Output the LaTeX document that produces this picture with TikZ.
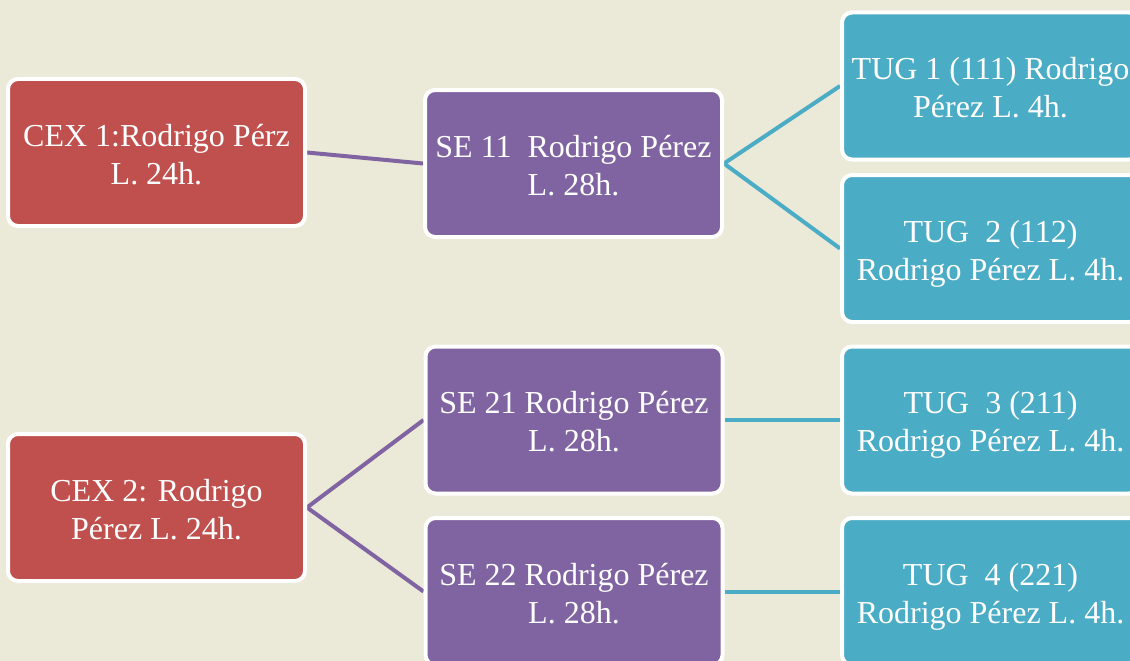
\documentclass[tikz,border=0pt]{standalone}
\usepackage{fontspec}
\setmainfont{Liberation Serif}
\definecolor{bgc}{HTML}{EBE9D7}
\definecolor{redc}{HTML}{C0504D}
\definecolor{purc}{HTML}{8064A2}
\definecolor{tealc}{HTML}{4BACC6}
\pgfdeclarelayer{bg}
\pgfdeclarelayer{lines}
\pgfsetlayers{bg,lines,main}
\tikzset{
  box/.style={draw=white, line width=4pt, rounded corners=10pt, minimum width=297pt,
    minimum height=147pt, inner sep=0pt, align=center, text=white,
    font=\fontsize{32}{38}\selectfont},
  redbox/.style={box, fill=redc},
  purbox/.style={box, fill=purc},
  tealbox/.style={box, fill=tealc},
  plink/.style={draw=purc, line width=4pt},
  tlink/.style={draw=tealc, line width=4pt}
}
\newcommand{\boxtext}[2]{\raisebox{0pt}[\dimexpr\height+10pt\relax][\depth]{\begin{tabular}{@{}c@{}}#1\\#2\end{tabular}}}
\begin{document}
\begin{tikzpicture}[x=1pt,y=-1pt]
\useasboundingbox (0,0) rectangle (1130,661);
\begin{pgfonlayer}{bg}
\fill[bgc] (0,0) rectangle (1130,661);
\end{pgfonlayer}
\clip (0,0) rectangle (1130,661);
\node[redbox] (cex1) at (156.5,152.5) {\boxtext{CEX 1:Rodrigo Pérz}{L. 24h.}};
\node[purbox] (se11) at (573.5,163.5) {\boxtext{SE 11\ \ Rodrigo Pérez}{L. 28h.}};
\node[tealbox] (tug1) at (990.5,86) {\boxtext{TUG 1 (111) Rodrigo}{Pérez L. 4h.}};
\node[tealbox] (tug2) at (990.5,248.5) {\boxtext{TUG\ \ 2 (112)}{Rodrigo Pérez L. 4h.}};
\node[redbox] (cex2) at (156.5,507.5) {\boxtext{CEX 2: Rodrigo}{Pérez L. 24h.}};
\node[purbox] (se21) at (574,420) {\boxtext{SE 21 Rodrigo Pérez}{L. 28h.}};
\node[purbox] (se22) at (574,591.5) {\boxtext{SE 22 Rodrigo Pérez}{L. 28h.}};
\node[tealbox] (tug3) at (990.5,420) {\boxtext{TUG\ \ 3 (211)}{Rodrigo Pérez L. 4h.}};
\node[tealbox] (tug4) at (990.5,591.5) {\boxtext{TUG\ \ 4 (221)}{Rodrigo Pérez L. 4h.}};
\begin{pgfonlayer}{lines}
\draw[plink] (cex1.east) -- (se11.west);
\draw[tlink] (se11.east) -- (tug1.west);
\draw[tlink] (se11.east) -- (tug2.west);
\draw[plink] (cex2.east) -- (se21.west);
\draw[plink] (cex2.east) -- (se22.west);
\draw[tlink] (se21.east) -- (tug3.west);
\draw[tlink] (se22.east) -- (tug4.west);
\end{pgfonlayer}
\end{tikzpicture}
\end{document}
